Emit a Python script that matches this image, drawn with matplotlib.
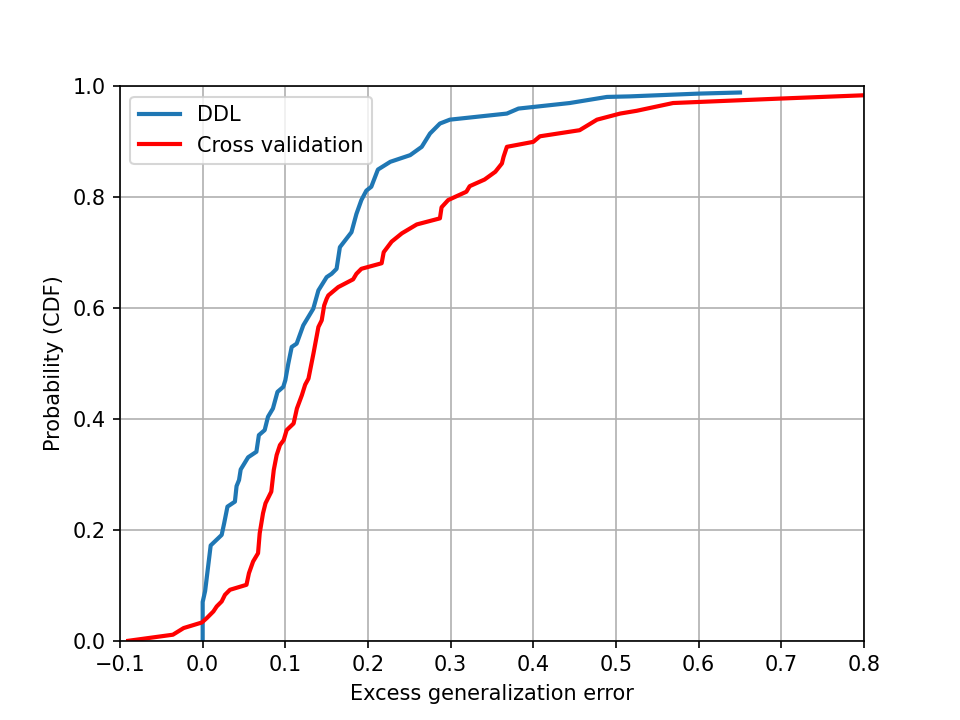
import matplotlib
matplotlib.use("Agg")
import matplotlib.pyplot as plt

ddl_x = [0.0, 0.0, 0.003, 0.0097, 0.023, 0.026, 0.030, 0.039, 0.041, 0.044, 0.046, 0.055, 0.065,
         0.068, 0.075, 0.079, 0.085, 0.0905, 0.0975, 0.100, 0.1036, 0.1077, 0.1137, 0.1217, 0.1338,
         0.140, 0.150, 0.156, 0.162, 0.166, 0.180, 0.186, 0.192, 0.198, 0.204, 0.212, 0.227, 0.251,
         0.265, 0.275, 0.287, 0.299, 0.368, 0.382, 0.444, 0.489, 0.517, 0.600, 0.650]
ddl_y = [0.0, 0.07, 0.09, 0.172, 0.191, 0.212, 0.242, 0.251, 0.279, 0.290, 0.309, 0.331, 0.341,
         0.371, 0.380, 0.404, 0.419, 0.449, 0.458, 0.470, 0.500, 0.530, 0.536, 0.569, 0.599,
         0.632, 0.656, 0.662, 0.671, 0.710, 0.737, 0.770, 0.795, 0.812, 0.819, 0.850, 0.864, 0.876,
         0.891, 0.915, 0.933, 0.940, 0.951, 0.960, 0.970, 0.981, 0.982, 0.987, 0.989]

cv_x = [-0.090, -0.036, -0.023, -0.001, 0.005, 0.013, 0.017, 0.023, 0.027, 0.033, 0.053, 0.056,
        0.061, 0.067, 0.069, 0.073, 0.076, 0.083, 0.086, 0.0895, 0.0935, 0.098, 0.1016, 0.110,
        0.114, 0.120, 0.124, 0.128, 0.134, 0.140, 0.144, 0.147, 0.150, 0.152, 0.164, 0.182, 0.186,
        0.192, 0.2165, 0.219, 0.2286, 0.241, 0.259, 0.287, 0.289, 0.297, 0.319, 0.323, 0.341,
        0.354, 0.362, 0.364, 0.368, 0.400, 0.408, 0.456, 0.477, 0.505, 0.525, 0.569, 0.698, 0.800,
        0.850]
cv_y = [0.0, 0.011, 0.023, 0.033, 0.041, 0.053, 0.062, 0.071, 0.083, 0.092, 0.101, 0.122,
        0.143, 0.158, 0.194, 0.230, 0.248, 0.269, 0.308, 0.335, 0.353, 0.362, 0.380, 0.392,
        0.419, 0.443, 0.462, 0.473, 0.518, 0.566, 0.578, 0.605, 0.617, 0.623, 0.638, 0.652, 0.662,
        0.671, 0.681, 0.701, 0.720, 0.735, 0.751, 0.762, 0.782, 0.795, 0.810, 0.820, 0.832,
        0.846, 0.861, 0.873, 0.891, 0.900, 0.910, 0.921, 0.940, 0.951, 0.956, 0.970, 0.978, 0.984,
        0.986]

fig, ax = plt.subplots(figsize=(6.4, 4.8), dpi=150)
ax.plot(ddl_x, ddl_y, color="#1f77b4", lw=2, label="DDL")
ax.plot(cv_x, cv_y, color="red", lw=2, label="Cross validation")
ax.set_xlim(-0.1, 0.8)
ax.set_ylim(0, 1)
ax.grid(True)
ax.set_xlabel("Excess generalization error")
ax.set_ylabel("Probability (CDF)")
ax.legend(loc="upper left")
fig.savefig("out.png", dpi=150)
